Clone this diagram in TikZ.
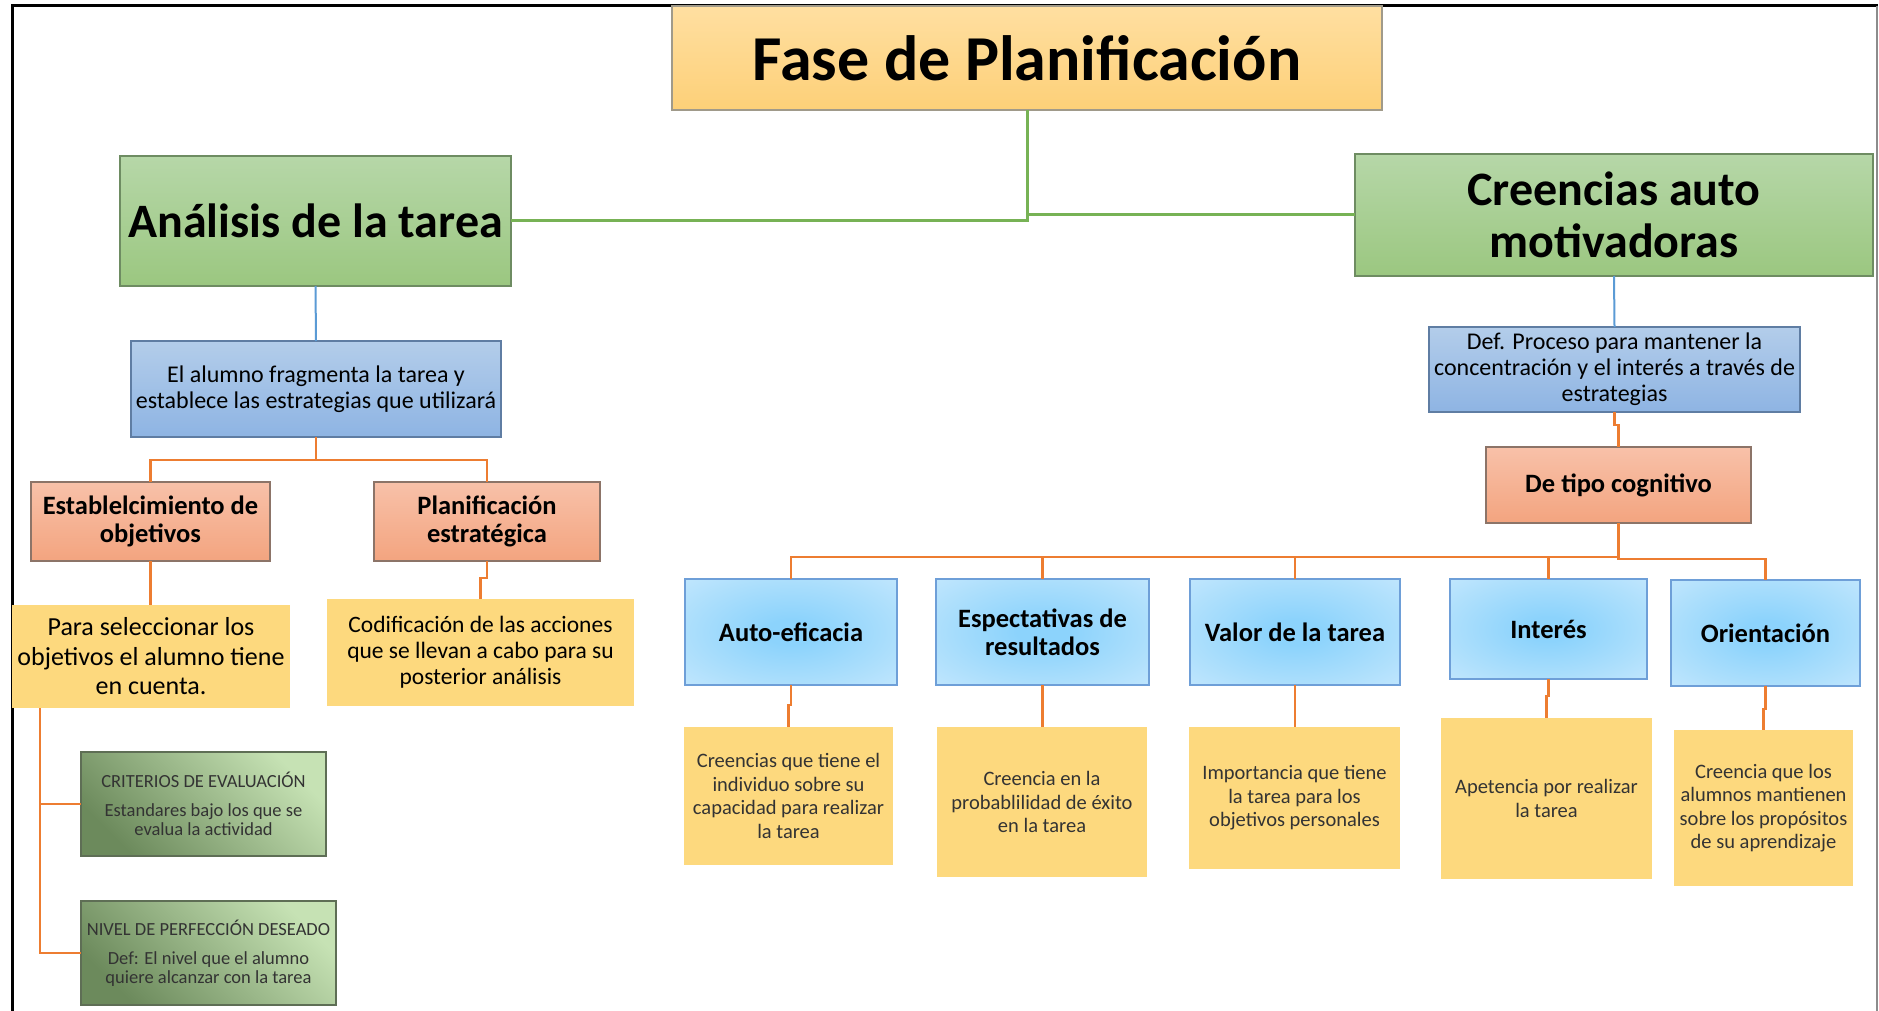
\documentclass[tikz,border=0pt]{standalone}
\usepackage{fontspec}
\setmainfont{Carlito}
\usetikzlibrary{calc}
\definecolor{titT}{HTML}{FFDFA1}
\definecolor{titB}{HTML}{FDD078}
\definecolor{titD}{HTML}{A09A8A}
\definecolor{grT}{HTML}{B6D7A8}
\definecolor{grB}{HTML}{9BC780}
\definecolor{grD}{HTML}{6E8C62}
\definecolor{blT}{HTML}{B3CDEA}
\definecolor{blB}{HTML}{8EB4E3}
\definecolor{blD}{HTML}{5F7DA3}
\definecolor{saT}{HTML}{F8C1A9}
\definecolor{saB}{HTML}{F3A47F}
\definecolor{saD}{HTML}{8C7468}
\definecolor{yel}{HTML}{FDD97E}
\definecolor{cyC}{HTML}{8CD3FC}
\definecolor{cyO}{HTML}{D9EFFD}
\definecolor{cyD}{HTML}{6E9FD8}
\definecolor{olT}{HTML}{C6E2B4}
\definecolor{olB}{HTML}{6C8A5C}
\definecolor{olD}{HTML}{5E6E55}
\definecolor{lnG}{HTML}{77B255}
\definecolor{lnB}{HTML}{5B9BD5}
\definecolor{lnO}{HTML}{ED7D31}
\pgfdeclareradialshading{cyanrad}{\pgfpoint{0bp}{0bp}}{color(0bp)=(cyC); color(6bp)=(cyC); color(50bp)=(cyO); color(72bp)=(cyO)}
\begin{document}
\begin{tikzpicture}[x=1pt,y=-1pt,
  box/.style={inner sep=0pt, outer sep=0pt, align=center, line width=1.2pt},
  sz/.style 2 args={minimum width=#1pt, minimum height=#2pt},
  titlebox/.style={box, top color=titT, bottom color=titB, draw=titD, font=\fontsize{64}{72}\selectfont\bfseries},
  lvlone/.style={box, top color=grT, bottom color=grB, draw=grD, font=\fontsize{48}{52}\selectfont\bfseries},
  defbox/.style={box, top color=blT, bottom color=blB, draw=blD, font=\fontsize{24}{26}\selectfont},
  salbox/.style={box, top color=saT, bottom color=saB, draw=saD, font=\fontsize{26.5}{28}\selectfont\bfseries},
  yelbox/.style={box, fill=yel},
  cyanbox/.style={box, draw=cyD, shade, shading=cyanrad, font=\fontsize{26.5}{28}\selectfont\bfseries},
  olivebox/.style={box, draw=olD, top color=olT, bottom color=olB, shading angle=-45, text=black!80, font=\fontsize{18.5}{19}\selectfont},
  desc/.style={yelbox, font=\fontsize{20.5}{23.5}\selectfont, text=black!80},
  gline/.style={draw=lnG, line width=3pt},
  bline/.style={draw=lnB, line width=2pt},
  oline/.style={draw=lnO, line width=2.7pt}]
\useasboundingbox (0,0) rectangle (1879,1011);
\fill[white] (0,0) rectangle (1879,1011);
% frame
\draw[line width=3pt] (12,1011) -- (12,6) -- (1878,6);
\draw[black!45, line width=1.5pt] (1877,6) -- (1877,1011);
% nodes
\node[titlebox, sz={710}{104}] (title) at (1027,58) {Fase de Planificación};
\node[lvlone, sz={391}{130}] (analisis) at (315.5,221) {Análisis de la tarea};
\node[lvlone, sz={518}{122}] (creencias) at (1614,215) {Creencias auto\\motivadoras};
\node[defbox, sz={370}{96}] (frag) at (316,389) {El alumno fragmenta la tarea y\\establece las estrategias que utilizará};
\node[defbox, sz={371}{85}] (def) at (1614.5,369.5) {Def. Proceso para mantener la\\concentración y el interés a través de\\estrategias};
\node[salbox, sz={239}{79}] (estab) at (150.5,521.5) {Establelcimiento de\\objetivos};
\node[salbox, sz={226}{79}] (planif) at (487,521.5) {Planificación\\estratégica};
\node[yelbox, sz={278}{103}, font=\fontsize{26}{29.5}\selectfont] (para) at (151,656.5) {Para seleccionar los\\objetivos el alumno tiene\\en cuenta.};
\node[yelbox, sz={307}{107}, font=\fontsize{23.5}{26}\selectfont] (codif) at (480.5,652.5) {Codificación de las acciones\\que se llevan a cabo para su\\posterior análisis};
\node[olivebox, sz={245}{104}] (crit) at (203.5,804) {CRITERIOS DE EVALUACIÓN\\[10pt]Estandares bajo los que se\\evalua la actividad};
\node[olivebox, sz={255}{104}] (nivel) at (208.5,953) {NIVEL DE PERFECCIÓN DESEADO\\[10pt]Def: El nivel que el alumno\\quiere alcanzar con la tarea};
\node[salbox, sz={265}{76}] (detipo) at (1618.5,485) {De tipo cognitivo};
\node[cyanbox, sz={212}{106}] (auto) at (791,632) {Auto-eficacia};
\node[cyanbox, sz={213}{106}] (espec) at (1042.5,632) {Espectativas de\\resultados};
\node[cyanbox, sz={210}{106}] (valor) at (1295,632) {Valor de la tarea};
\node[cyanbox, sz={197}{100}] (interes) at (1548.5,629) {Interés};
\node[cyanbox, sz={189}{106}] (orient) at (1765.5,633) {Orientación};
\node[desc, sz={209}{138}] (d1) at (788.5,796) {Creencias que tiene el\\individuo sobre su\\capacidad para realizar\\la tarea};
\node[desc, sz={210}{150}] (d2) at (1042,802) {Creencia en la\\probablilidad de éxito\\en la tarea};
\node[desc, sz={211}{142}] (d3) at (1294.5,798) {Importancia que tiene\\la tarea para los\\objetivos personales};
\node[desc, sz={211}{161}] (d4) at (1546.5,798.5) {Apetencia por realizar\\la tarea};
\node[desc, sz={179}{156}] (d5) at (1763.5,808) {Creencia que los\\alumnos mantienen\\sobre los propósitos\\de su aprendizaje};
% connectors
\draw[gline] (title.south) |- (analisis.east);
\draw[gline] (title.south) |- (creencias.west);
\draw[bline] (analisis.south) -- (frag.north);
\draw[bline] (creencias.south) -- (def.north);
\draw[oline] (frag.south) -- ++(0,23) -| (estab.north);
\draw[oline] (frag.south) -- ++(0,23) -| (planif.north);
\draw[oline] (estab.south) -- (estab.south |- para.north);
\draw[oline] (planif.south) -- ++(0,17) -| (codif.north);
\draw[oline] ([xshift=28pt]para.south west) |- (crit.west);
\draw[oline] ([xshift=28pt]para.south west) |- (nivel.west);
\draw[oline] (def.south) -- ++(0,13) -| (detipo.north);
\foreach \n in {auto,espec,valor,interes} \draw[oline] (detipo.south) -- ++(0,34) -| (\n.north);
\draw[oline] (detipo.south) -- ++(0,36) -| (orient.north);
\draw[oline] (auto.south) -- ++(0,20) -| (d1.north);
\draw[oline] (espec.south) -- (espec.south |- d2.north);
\draw[oline] (valor.south) -- (valor.south |- d3.north);
\draw[oline] (interes.south) -- ++(0,17) -| (d4.north);
\draw[oline] (orient.south) -- ++(0,23) -| (d5.north);
\end{tikzpicture}
\end{document}
